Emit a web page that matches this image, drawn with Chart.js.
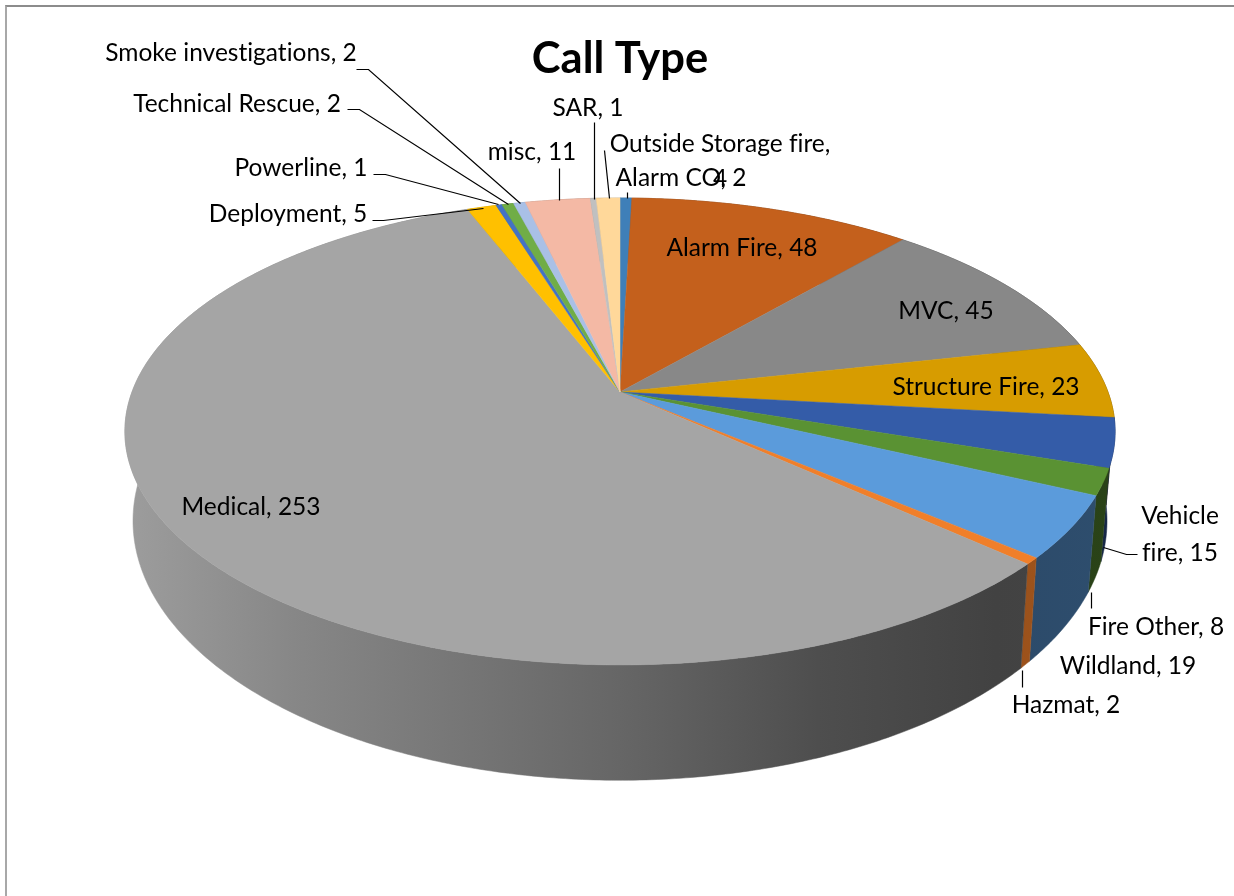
<!DOCTYPE html>
<html>
<head>
<meta charset="utf-8">
<title>Call Type</title>
<script src="https://cdn.jsdelivr.net/npm/chart.js@4"></script>
<style>
  html, body { margin: 0; padding: 0; background: #fff; }
  #wrap { position: relative; width: 1234px; height: 896px; overflow: hidden; }
  #wrap canvas { display: block; }
  #frame { position: absolute; left: 5px; top: 5px; width: 1240px; height: 900px;
           border-left: 2px solid #a8a8a8; border-top: 2px solid #8c8c8c; }
</style>
</head>
<body>
<div id="wrap">
  <canvas id="pie" width="1234" height="896"></canvas>
  <div id="frame"></div>
</div>
<script>
const categories = ["Alarm CO", "Alarm Fire", "MVC", "Structure Fire", "Vehicle fire", "Fire Other",
  "Wildland", "Hazmat", "Medical", "Deployment", "Powerline", "Technical Rescue",
  "Smoke investigations", "misc", "SAR", "Outside Storage fire"];
const calls = [2, 48, 45, 23, 15, 8, 19, 2, 253, 5, 1, 2, 2, 11, 1, 4];
const sliceColors = ["#3f7fb8", "#c4601c", "#888888", "#d79c00", "#345ca8", "#5a9233",
  "#5b9bdb", "#f07f2a", "#a5a5a5", "#ffc000", "#4472c4", "#70ad47",
  "#a9c0e6", "#f4b9a5", "#c0c0c0", "#ffd89a"];
// side walls of the coloured slices are a bit less dark than the grey one
const wallBoost = [1, 1, 1, 1, 1, 1.1, 1.2, 1.6, 1, 1, 1, 1, 1, 1, 1, 1];

// perspective of the two discs, worked out from the rim of the picture
const topDisc = { cx: 620, cy: 392, rx: 488, ry: 226.8, k: 0.169 };
const baseDisc = { cx: 620, cy: 477, rx: 480, ry: 252, k: 0.169 };
const wallShade = [[0, 0.95], [0.17, 0.82], [0.5, 0.62], [0.7, 0.47], [0.88, 0.4], [1, 0.42]];

const FONT = "Lato, 'Open Sans', sans-serif";

// label placement by category index: centre of each line, then the leader polyline
const labelLayout = {
  0: { lines: [[681, 178]], leader: [[627, 192], [627, 198]] },
  1: { lines: [[742, 248]] },
  2: { lines: [[946, 311]] },
  3: { lines: [[986, 387]] },
  4: { lines: [[1180, 516], [1180, 553]], split: 1, leader: [[1137, 554], [1126, 554], [1103, 547]] },
  5: { lines: [[1156, 627]], leader: [[1091, 592], [1091, 608]] },
  6: { lines: [[1128, 666]] },
  7: { lines: [[1066, 705]], leader: [[1022, 670], [1022, 687]] },
  8: { lines: [[251, 507]] },
  9: { lines: [[288, 214]], leader: [[372, 220], [383, 220], [483, 208]] },
  10: { lines: [[301, 168]], leader: [[373, 174], [385, 174], [498, 204]] },
  11: { lines: [[237, 104]], leader: [[347, 109], [359, 109], [508, 204]] },
  12: { lines: [[231, 53]], leader: [[356, 69], [368, 69], [520, 203]] },
  13: { lines: [[532, 152]], leader: [[559, 168], [559, 200]] },
  14: { lines: [[588, 108]], leader: [[594, 122], [594, 199]] },
  15: { lines: [[720, 144], [720, 179]], split: 3, leader: [[604, 150], [609, 198]] },
};

function project(disc, angle) {
  const X = Math.cos(angle), Y = Math.sin(angle);
  const s = 1 / (1 - disc.k * Y);
  return [disc.cx + disc.rx * X * s, disc.cy + disc.ry * Y * s];
}

function rimPoints(disc, start, end) {
  const steps = Math.max(2, Math.ceil((end - start) / 0.01));
  const pts = [];
  for (let i = 0; i <= steps; i++) pts.push(project(disc, start + (end - start) * i / steps));
  return pts;
}

function shade(hex, f) {
  const n = parseInt(hex.slice(1), 16);
  const c = [n >> 16, (n >> 8) & 255, n & 255].map((v) => Math.min(255, Math.round(v * f)));
  return `rgb(${c[0]},${c[1]},${c[2]})`;
}

// doughnut controller that lays the arcs out as usual, then draws them as a tilted 3D disc
class Pie3DController extends Chart.DoughnutController {
  draw() {
    const ctx = this.chart.ctx;
    const arcs = this._cachedMeta.data;

    arcs.forEach((arc, i) => {
      const color = sliceColors[i];
      const grad = ctx.createLinearGradient(125, 0, 1115, 0);
      wallShade.forEach(([pos, f]) => grad.addColorStop(pos, shade(color, f * wallBoost[i])));
      const upper = rimPoints(topDisc, arc.startAngle, arc.endAngle);
      const lower = rimPoints(baseDisc, arc.startAngle, arc.endAngle).reverse();
      ctx.beginPath();
      upper.concat(lower).forEach(([x, y], n) => (n ? ctx.lineTo(x, y) : ctx.moveTo(x, y)));
      ctx.closePath();
      ctx.fillStyle = grad;
      ctx.strokeStyle = grad;
      ctx.lineWidth = 0.5;
      ctx.fill();
      ctx.stroke();
    });

    arcs.forEach((arc, i) => {
      ctx.beginPath();
      ctx.moveTo(topDisc.cx, topDisc.cy);
      rimPoints(topDisc, arc.startAngle, arc.endAngle).forEach(([x, y]) => ctx.lineTo(x, y));
      ctx.closePath();
      ctx.fillStyle = sliceColors[i];
      ctx.strokeStyle = sliceColors[i];
      ctx.lineWidth = 0.5;
      ctx.fill();
      ctx.stroke();
    });
  }
}
Pie3DController.id = "pie3d";
Pie3DController.defaults = Chart.DoughnutController.defaults;
Pie3DController.overrides = Chart.DoughnutController.overrides;
Chart.register(Pie3DController);

const sliceLabels = {
  id: "sliceLabels",
  afterDatasetsDraw(chart) {
    const ctx = chart.ctx;
    ctx.save();
    ctx.strokeStyle = "#000";
    ctx.lineWidth = 1.2;
    ctx.fillStyle = "#000";
    ctx.font = `24.5px ${FONT}`;
    ctx.textAlign = "center";
    ctx.textBaseline = "middle";
    ctx.textRendering = "optimizeSpeed"; // no fi/ti ligatures
    categories.forEach((name, i) => {
      const place = labelLayout[i];
      if (place.leader) {
        ctx.beginPath();
        place.leader.forEach(([x, y], n) => (n ? ctx.lineTo(x + 0.5, y + 0.5) : ctx.moveTo(x + 0.5, y + 0.5)));
        ctx.stroke();
      }
      const text = `${name}, ${calls[i]}`;
      let parts = [text];
      if (place.split === 1) parts = ["Vehicle", `fire, ${calls[i]}`];
      if (place.split === 3) parts = [`${name},`, `${calls[i]}`];
      parts.forEach((part, n) => ctx.fillText(part, place.lines[n][0], place.lines[n][1]));
    });
    ctx.restore();
  },
};

new Chart(document.getElementById("pie"), {
  type: "pie3d",
  data: {
    labels: categories,
    datasets: [{ data: calls, backgroundColor: sliceColors, borderWidth: 0 }],
  },
  options: {
    responsive: false,
    animation: false,
    layout: { padding: { left: 6 } },
    plugins: {
      legend: { display: false },
      tooltip: { enabled: false },
      title: {
        display: true,
        text: "Call Type",
        color: "#000",
        font: { family: FONT, size: 43.5, weight: "bold" },
        padding: { top: 33, bottom: 10 },
      },
    },
  },
  plugins: [sliceLabels],
});
</script>
</body>
</html>
